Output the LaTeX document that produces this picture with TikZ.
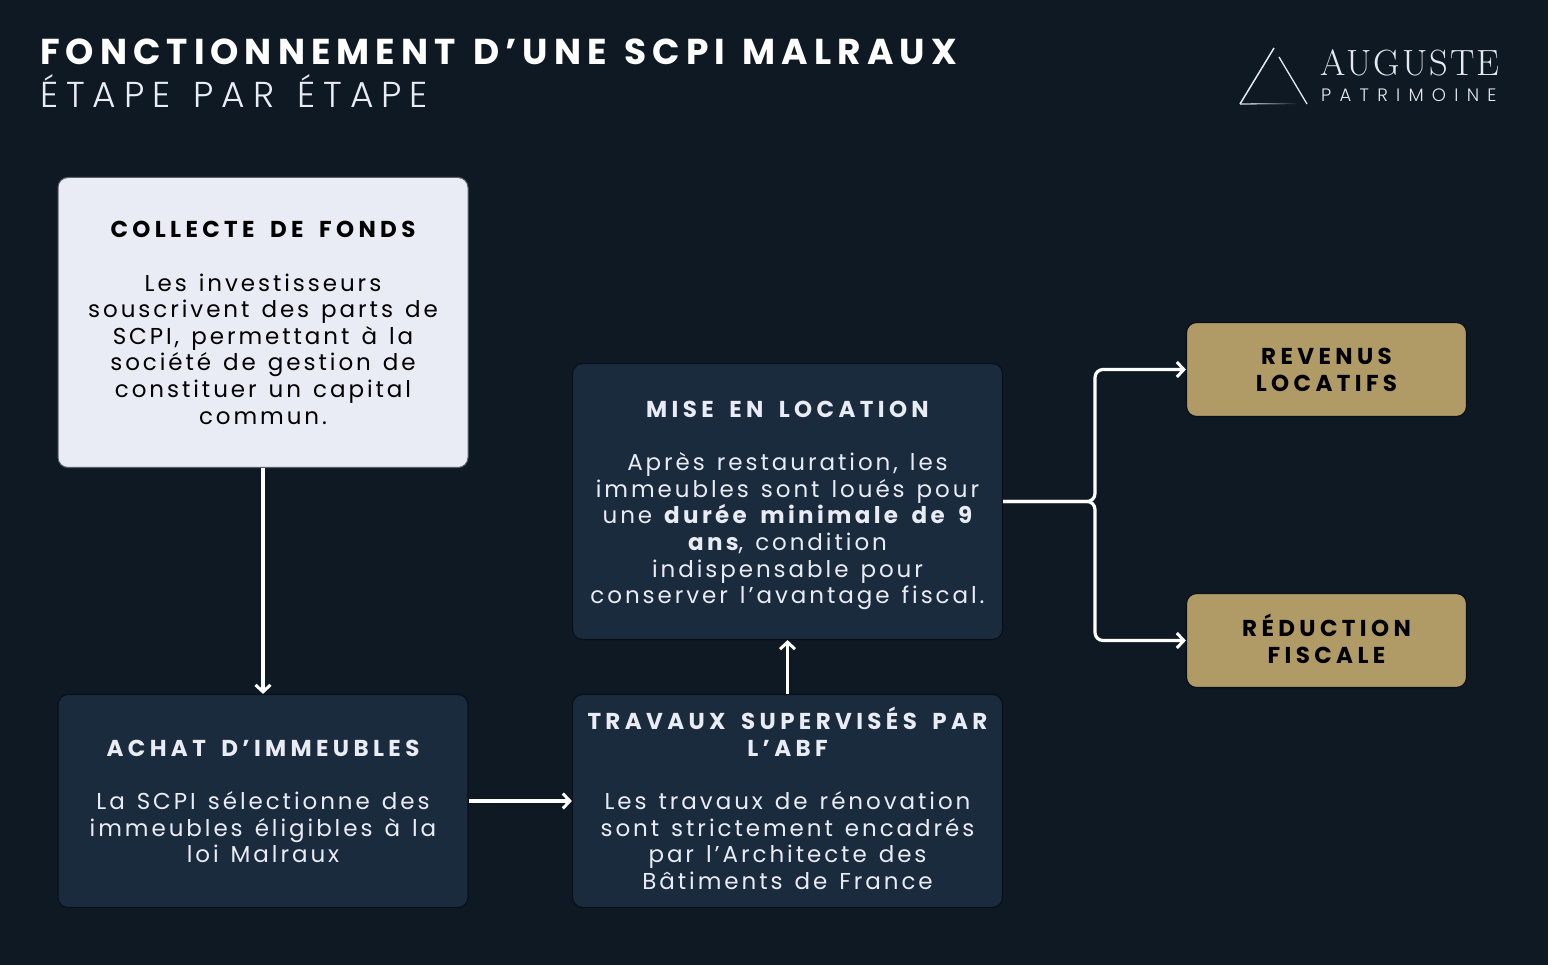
\documentclass[tikz,border=0pt]{standalone}
\usepackage{fontspec}
\usetikzlibrary{arrows.meta,fadings}
\setmainfont{Poppins}
\newfontfamily\bodyf[LetterSpace=12.8]{Poppins}
\newfontfamily\headf[LetterSpace=19]{Poppins Bold}
\newfontfamily\goldf[LetterSpace=19]{Poppins Bold}
\newfontfamily\titlef[LetterSpace=16.7,WordSpace=1.3]{Poppins Bold}
\newfontfamily\subf[LetterSpace=22,WordSpace=1.3]{Poppins Light}
\newfontfamily\boldbody[LetterSpace=14.5]{Poppins Bold}
\newfontfamily\logof[LetterSpace=5.4]{Latin Modern Roman}
\newfontfamily\logosub[LetterSpace=46]{Poppins Light}
\definecolor{pagebg}{HTML}{0F1923}
\definecolor{navy}{HTML}{1B2B3E}
\definecolor{pale}{HTML}{E9ECF5}
\definecolor{gold}{HTML}{B09A66}
\definecolor{edge}{HTML}{0A1017}
\definecolor{paleedge}{HTML}{5A6068}
\definecolor{logoc}{HTML}{E4E9F0}
\tikzset{
  x=1pt,y=-1pt,
  cardbox/.style={rounded corners=10pt,draw=edge,line width=1.2pt,inner sep=0pt},
  darkcard/.style={cardbox,fill=navy},
  palecard/.style={cardbox,fill=pale,draw=paleedge,line width=1pt},
  goldcard/.style={cardbox,fill=gold},
  cardtext/.style={align=center,inner sep=0pt,text width=425pt,font=\fontsize{23}{26.6}\selectfont\bodyf,
    execute at begin node={\spaceskip=12pt\relax}},
  goldtext/.style={align=center,inner sep=0pt,text width=270pt,text=black,font=\fontsize{23}{26.6}\selectfont\goldf},
  flow/.style={draw=white,line width=3.2pt,-{Straight Barb[length=7pt,width=15pt,line width=3pt]}},
  branch/.style={flow,rounded corners=8pt},
}
\newcommand{\hd}[1]{{\headf\spaceskip=15.5pt\relax #1}}
\newcommand{\bb}[1]{{\boldbody\spaceskip=13.5pt\relax #1}}
\begin{document}
\begin{tikzpicture}
\useasboundingbox[fill=pagebg] (0,0) rectangle (1548,965);
\node[anchor=base west,inner sep=0pt,text=white,font=\fontsize{36}{40}\selectfont\titlef] (title) at (40,65) {FONCTIONNEMENT D’UNE SCPI MALRAUX};
\node[anchor=base west,inner sep=0pt,text=pale,font=\fontsize{36}{40}\selectfont\subf] (sub) at (40,108) {ÉTAPE PAR ÉTAPE};

\node[palecard,minimum width=410pt,minimum height=290pt] (collecte) at (263,322.5) {};
\node[darkcard,minimum width=410pt,minimum height=213pt] (achat) at (263,801) {};
\node[darkcard,minimum width=430pt,minimum height=213pt] (travaux) at (787.5,801) {};
\node[darkcard,minimum width=430pt,minimum height=276pt] (mise) at (787.5,501.5) {};
\node[goldcard,minimum width=280pt,minimum height=94pt] (revenus) at (1326.5,369.5) {};
\node[goldcard,minimum width=280pt,minimum height=94pt] (reduction) at (1326.5,640.5) {};

\node[cardtext,text=black] (collectetext) at ([yshift=-0.5pt]collecte.center) {\hd{COLLECTE DE FONDS}\\[26.6pt]
Les investisseurs\\souscrivent des parts de\\SCPI, permettant à la\\société de gestion de\\constituer un capital\\commun.};
\node[cardtext,text=pale] (achattext) at ([yshift=-0.5pt]achat.center) {\hd{ACHAT D’IMMEUBLES}\\[26.6pt]
La SCPI sélectionne des\\immeubles éligibles à la\\loi Malraux};
\node[cardtext,text=pale] (travauxtext) at ([yshift=2.5pt]travaux.center) {\hd{TRAVAUX SUPERVISÉS PAR}\\\hd{L’ABF}\\[26.6pt]
Les travaux de rénovation\\sont strictement encadrés\\par l’Architecte des\\Bâtiments de France};
\node[cardtext,text=pale] (misetext) at ([yshift=-4pt]mise.center) {\hd{MISE EN LOCATION}\\[26.6pt]
Après restauration, les\\immeubles sont loués pour\\une \bb{durée minimale de 9}\\\bb{ans}, condition\\indispensable pour\\conserver l’avantage fiscal.};
\node[goldtext] (revenustext) at ([yshift=-0.5pt]revenus.center) {REVENUS\\LOCATIFS};
\node[goldtext] (reductiontext) at ([yshift=1.5pt]reduction.center) {RÉDUCTION\\FISCALE};

\coordinate (fork) at (1095,501.5);
\draw[flow] (collecte.south) -- (achat.north);
\draw[flow] (achat.east) -- (travaux.west);
\draw[flow] (travaux.north) -- (mise.south);
\draw[branch] (mise.east) -- (fork) |- (revenus.west);
\draw[branch] (mise.east) -- (fork) |- (reduction.west);

% logo
\coordinate (apex) at (1274,48);
\coordinate (blc) at (1240,104);
\coordinate (brc) at (1307,104);
\draw[logoc,line width=1.5pt] (apex) -- (blc);
\draw[logoc,line width=1.3pt,path fading=east] (blc) -- (1297,103.5);
\draw[logoc,line width=1.3pt] (1279,57) -- (brc);
\node[anchor=base west,inner sep=0pt,text=logoc,font=\fontsize{36.5}{38}\selectfont\logof] (logoa) at (1320,76) {AUGUSTE};
\node[anchor=base west,inner sep=0pt,text=logoc,font=\fontsize{18}{22}\selectfont\logosub] (logob) at (1321,102) {PATRIMOINE};
\end{tikzpicture}
\end{document}
